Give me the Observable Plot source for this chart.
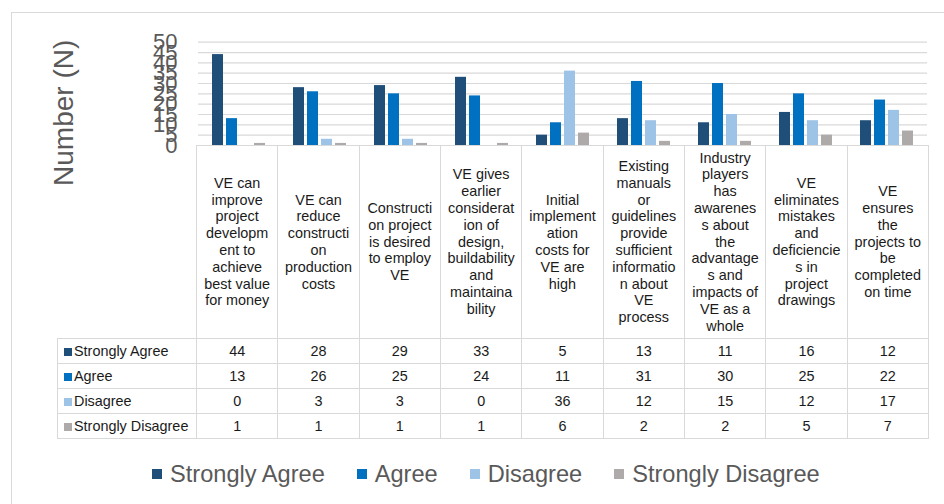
<!DOCTYPE html>
<html>
<head>
<meta charset="utf-8">
<script src="https://cdn.jsdelivr.net/npm/d3@7"></script>
<script src="https://cdn.jsdelivr.net/npm/@observablehq/plot@0.6"></script>
<style>
html, body { margin: 0; padding: 0; background: #fff; overflow: hidden; }
#wrap { position: relative; width: 944px; height: 504px; font-family: "Liberation Sans", Arial, sans-serif; overflow: hidden; }
#border { position: absolute; left: 11px; top: 12px; width: 960px; height: 520px; border: 1px solid #d9d9d9; box-sizing: border-box; }
#chart { position: absolute; left: 0; top: 0; }
#table { position: absolute; left: 57px; top: 145px; border-collapse: collapse; table-layout: fixed; width: 871px; }
#table td { border: 1px solid #d9d9d9; padding: 0; text-align: center; vertical-align: middle; font-size: 14.4px; color: #1a1a1a; }
#table td.blank { border-top: none; border-left: none; }
#table td.cat { white-space: pre-line; line-height: 16.8px; }
#table td.head { text-align: left; padding-left: 6px; white-space: nowrap; }
#table tr.cats td { height: 192px; }
#table tr.vals td { height: 24px; }
.sw { display: inline-block; width: 8px; height: 8px; margin-right: 2px; vertical-align: 0px; }
#legend { position: absolute; left: 152px; top: 460px; display: flex; align-items: center; font-size: 23.6px; color: #595959; line-height: 28px; }
#legend .item { display: flex; align-items: center; margin-right: 32px; }
#legend .lsw { display: inline-block; width: 10px; height: 10px; margin-right: 8px; }
</style>
</head>
<body>
<div id="wrap">
  <div id="border"></div>
  <div id="chart"></div>
  <table id="table"></table>
  <div id="legend"></div>
</div>
<script>
const categories = [
  "VE can\nimprove\nproject\ndevelopm\nent to\nachieve\nbest value\nfor money",
  "VE can\nreduce\nconstructi\non\nproduction\ncosts",
  "Constructi\non project\nis desired\nto employ\nVE",
  "VE gives\nearlier\nconsiderat\nion of\ndesign,\nbuildability\nand\nmaintaina\nbility",
  "Initial\nimplement\nation\ncosts for\nVE are\nhigh",
  "Existing\nmanuals\nor\nguidelines\nprovide\nsufficient\ninformatio\nn about\nVE\nprocess",
  "Industry\nplayers\nhas\nawarenes\ns about\nthe\nadvantage\ns and\nimpacts of\nVE as a\nwhole",
  "VE\neliminates\nmistakes\nand\ndeficiencie\ns in\nproject\ndrawings",
  "VE\nensures\nthe\nprojects to\nbe\ncompleted\non time"
];
const series = ["Strongly Agree", "Agree", "Disagree", "Strongly Disagree"];
const stronglyAgree    = [44, 28, 29, 33, 5, 13, 11, 16, 12];
const agree            = [13, 26, 25, 24, 11, 31, 30, 25, 22];
const disagree         = [0, 3, 3, 0, 36, 12, 15, 12, 17];
const stronglyDisagree = [1, 1, 1, 1, 6, 2, 2, 5, 7];
const yTicks = [0, 5, 10, 15, 20, 25, 30, 35, 40, 45, 50];
const yTitle = "Number (N)";
const colors = ["#1F4E79", "#0070C0", "#9DC3E6", "#AEAAAA"];

const values = [stronglyAgree, agree, disagree, stronglyDisagree];
const rows = series.flatMap((s, i) => categories.map((c, j) => ({category: c, series: s, value: values[i][j]})));

const plot = Plot.plot({
  width: 944,
  height: 440,
  marginLeft: 196,
  marginRight: 16,
  marginTop: 41.7,
  marginBottom: 295,
  fx: {domain: categories, padding: 0, axis: null},
  x: {domain: series, paddingInner: 0.226, paddingOuter: 0.898, axis: null},
  y: {domain: [0, 50], axis: null},
  color: {domain: series, range: colors},
  style: {fontFamily: "'Liberation Sans', Arial, sans-serif", background: "transparent", overflow: "visible"},
  marks: [
    Plot.gridY(yTicks, {stroke: "#d9d9d9", strokeOpacity: 1, strokeWidth: 1.2}),
    Plot.barY(rows, {fx: "category", x: "series", y: "value", fill: "series"}),
    Plot.axisY(yTicks, {tickSize: 0, tickPadding: 21, fontSize: 22, fill: "#595959", label: null}),
    Plot.text([yTitle], {fx: () => categories[0], frameAnchor: "left", textAnchor: "middle", lineAnchor: "middle", rotate: -90, dx: -134, dy: 19, fontSize: 28, fill: "#595959"})
  ]
});
document.getElementById("chart").appendChild(plot);

// data table
const table = document.getElementById("table");
let html = '<colgroup><col style="width:139px">' + categories.map(() => '<col style="width:81.33px">').join("") + '</colgroup>';
html += '<tr class="cats"><td class="blank"></td>' + categories.map(c => `<td class="cat">${c}</td>`).join("") + '</tr>';
series.forEach((s, i) => {
  html += `<tr class="vals"><td class="head"><span class="sw" style="background:${colors[i]}"></span>${s}</td>` +
    values[i].map(v => `<td>${v}</td>`).join("") + '</tr>';
});
table.innerHTML = html;

// legend
document.getElementById("legend").innerHTML = series.map((s, i) =>
  `<span class="item"><span class="lsw" style="background:${colors[i]}"></span>${s}</span>`).join("");
</script>
</body>
</html>
